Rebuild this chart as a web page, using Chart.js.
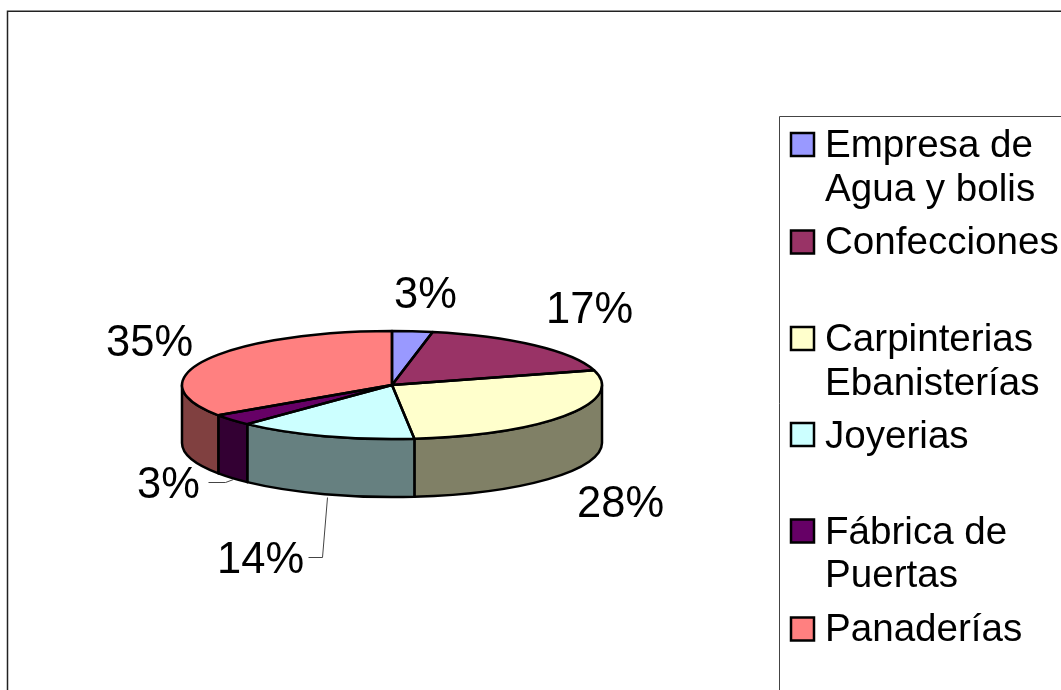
<!DOCTYPE html>
<html>
<head>
<meta charset="utf-8">
<style>
html,body{margin:0;padding:0;background:#fff;overflow:hidden}
canvas{display:block}
</style>
<script src="https://cdn.jsdelivr.net/npm/chart.js@4"></script>
</head>
<body>
<canvas id="c" width="1061" height="690"></canvas>
<script>
const categories = ['Empresa de Agua y bolis','Confecciones','Carpinterias Ebanisterías','Joyerias','Fábrica de Puertas','Panaderías'];
const values = [3.1,17.5,27.7,13.8,3.4,34.5];
const valueLabels = ['3%','17%','28%','14%','3%','35%'];
const colors = ['#9999FF','#993366','#FFFFCC','#CCFFFF','#660066','#FF8080'];
const sideColors = ['#4D4D80','#4D1A33','#808066','#668080','#330033','#804040'];
const legendLines = [['Empresa de','Agua y bolis'],['Confecciones'],['Carpinterias','Ebanisterías'],['Joyerias'],['Fábrica de','Puertas'],['Panaderías']];

const LABEL_FONT = '43.5px "Liberation Sans", Arial, sans-serif';
const LEGEND_FONT = '38.6px "Liberation Sans", Arial, sans-serif';
const SQUASH = 54/210, DEPTH = 58, OUTLINE = 2.5;
const labelPos = [[394,308],[546,323],[577,517],[217,573],[137,498],[106,356]];
const leaders = [null,null,null,[[308,557],[322,557],[327,497]],[[208,482],[225,482],[233,479]],null];
const legendBoxY = [133,230.5,327,423,519.5,617.5];
const legendBase = [[157,201],[254],[351,395],[448],[544,587],[641]];

const pie3d = {
  id:'pie3d',
  beforeDatasetsDraw(chart){
    const ctx = chart.ctx, arcs = chart.getDatasetMeta(0).data;
    const {x:cx,y:cy,outerRadius:r} = arcs[0];
    const ry = r*SQUASH;
    ctx.save();
    ctx.lineWidth = OUTLINE; ctx.strokeStyle = '#000'; ctx.lineJoin = 'round';
    arcs.forEach((a,i)=>{
      const s = Math.max(a.startAngle,0), e = Math.min(a.endAngle,Math.PI);
      if(e<=s) return;
      ctx.beginPath();
      ctx.ellipse(cx,cy,r,ry,0,s,e);
      ctx.ellipse(cx,cy+DEPTH,r,ry,0,e,s,true);
      ctx.closePath();
      ctx.fillStyle = sideColors[i];
      ctx.fill(); ctx.stroke();
    });
    ctx.restore();
    ctx.save();
    ctx.translate(cx,cy); ctx.scale(1,SQUASH); ctx.translate(-cx,-cy);
  },
  afterDatasetsDraw(chart){
    const ctx = chart.ctx, arcs = chart.getDatasetMeta(0).data;
    ctx.restore();
    const {x:cx,y:cy,outerRadius:r} = arcs[0];
    const ry = r*SQUASH;
    ctx.save();
    ctx.lineWidth = OUTLINE; ctx.strokeStyle = '#000'; ctx.lineJoin = 'round';
    arcs.forEach(a=>{
      ctx.beginPath();
      ctx.moveTo(cx,cy);
      ctx.ellipse(cx,cy,r,ry,0,a.startAngle,a.endAngle);
      ctx.closePath();
      ctx.stroke();
    });
    ctx.restore();
  },
  afterDraw(chart){
    const ctx = chart.ctx;
    ctx.save();
    // outer frame
    ctx.strokeStyle = '#222'; ctx.lineWidth = 1.5;
    ctx.beginPath(); ctx.moveTo(7.5,690); ctx.lineTo(7.5,11.25); ctx.lineTo(1061,11.25); ctx.stroke();
    // leader lines
    ctx.strokeStyle = '#444'; ctx.lineWidth = 1;
    leaders.forEach(l=>{
      if(!l) return;
      ctx.beginPath();
      l.forEach((p,i)=> i? ctx.lineTo(p[0]+.5,p[1]+.5) : ctx.moveTo(p[0]+.5,p[1]+.5));
      ctx.stroke();
    });
    // value labels
    ctx.font = LABEL_FONT; ctx.fillStyle = '#000'; ctx.textBaseline = 'alphabetic'; ctx.textAlign = 'left';
    valueLabels.forEach((t,i)=> ctx.fillText(t,labelPos[i][0],labelPos[i][1]));
    // legend frame
    ctx.strokeStyle = '#444'; ctx.lineWidth = 1;
    ctx.beginPath(); ctx.moveTo(779.5,690); ctx.lineTo(779.5,116.5); ctx.lineTo(1061,116.5); ctx.stroke();
    // legend entries
    ctx.font = LEGEND_FONT;
    categories.forEach((c,i)=>{
      ctx.fillStyle = colors[i];
      ctx.fillRect(791,legendBoxY[i],23,23);
      ctx.strokeStyle = '#000'; ctx.lineWidth = 2.5;
      ctx.strokeRect(791,legendBoxY[i],23,23);
      ctx.fillStyle = '#000';
      legendLines[i].forEach((t,j)=> ctx.fillText(t,825,legendBase[i][j]));
    });
    ctx.restore();
  }
};

new Chart(document.getElementById('c'),{
  type:'pie',
  data:{labels:categories,datasets:[{data:values,backgroundColor:colors,borderWidth:0,clip:false}]},
  options:{
    responsive:false,animation:false,
    layout:{padding:{left:182,right:459,top:175,bottom:95}},
    plugins:{legend:{display:false},tooltip:{enabled:false}}
  },
  plugins:[pie3d]
});
</script>
</body>
</html>
